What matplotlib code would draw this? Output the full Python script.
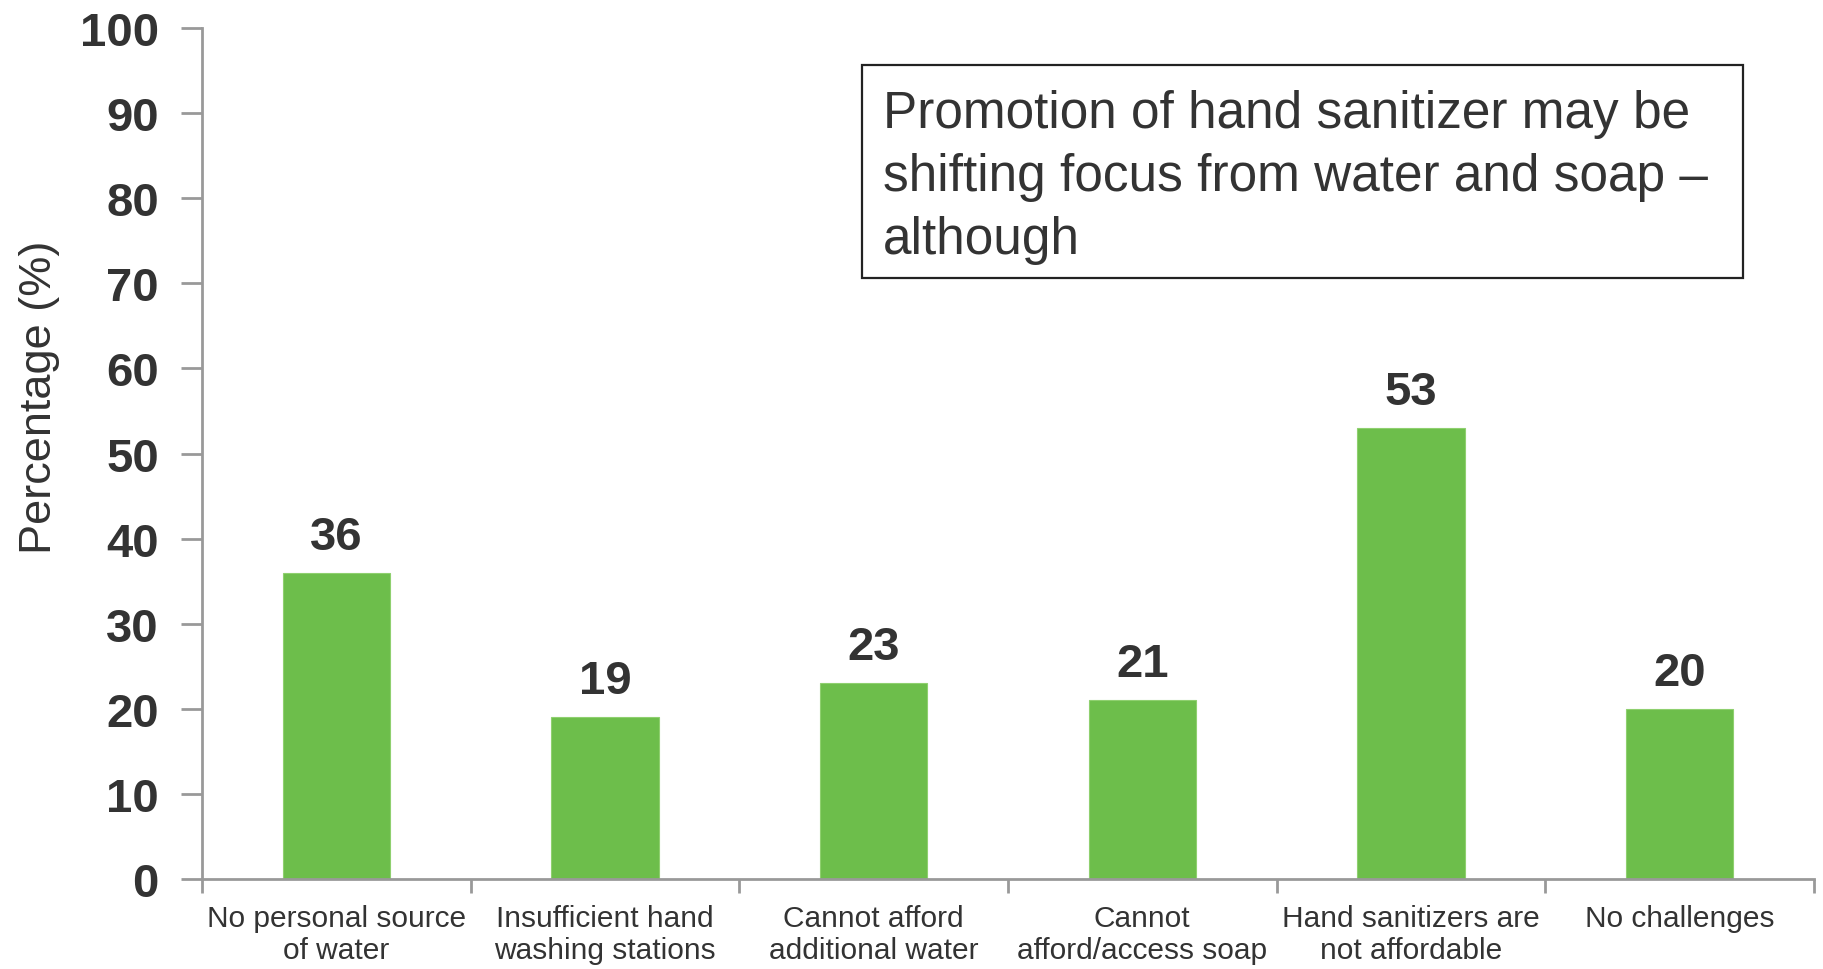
import matplotlib
matplotlib.use("Agg")
import matplotlib.pyplot as plt
from matplotlib.patches import Rectangle
import numpy as np

categories = ["No personal source\nof water", "Insufficient hand\nwashing stations",
              "Cannot afford\nadditional water", "Cannot\nafford/access soap",
              "Hand sanitizers are\nnot affordable", "No challenges"]
values = [36, 19, 23, 21, 53, 20]
yticks = [0, 10, 20, 30, 40, 50, 60, 70, 80, 90, 100]
note = "Promotion of hand sanitizer may be\nshifting focus from water and soap \u2013\nalthough"

FONT = ["Liberation Sans", "DejaVu Sans"]
TXT = "#333333"
GREEN = "#6dbe4b"
AX = "#999999"

plt.rcParams['font.family'] = FONT

fig = plt.figure(figsize=(18.24, 9.70), dpi=100)
ax = fig.add_axes([0.1107, 0.0928, 0.9945 - 0.1107, 0.970 - 0.0928])

x = np.arange(len(categories))
bars = ax.bar(x, values, width=0.4, color=GREEN, edgecolor="#8fd06f", linewidth=0.8, zorder=2)

for xi, v in zip(x, values):
    ax.annotate(str(v), (xi, v), xytext=(0, 10), textcoords="offset points",
                ha="center", va="bottom", fontsize=34, fontweight="bold", color=TXT)

ax.set_xlim(-0.5, len(categories) - 0.5)
ax.set_ylim(0, 100)
ax.set_yticks(yticks)
ax.set_yticklabels([str(t) for t in yticks], fontsize=34, fontweight="bold", color=TXT)
ax.tick_params(axis="y", length=15, width=2, color=AX, pad=16)

ax.set_xticks(x)
ax.set_xticklabels(categories, fontsize=21.5, color=TXT, linespacing=1.2)
ax.set_xticks(np.arange(-0.5, len(categories)), minor=True)
ax.tick_params(axis="x", which="major", length=0, pad=18)
ax.tick_params(axis="x", which="minor", length=10, width=2, color=AX)

for s in ["top", "right"]:
    ax.spines[s].set_visible(False)
for s in ["left", "bottom"]:
    ax.spines[s].set_color(AX)
    ax.spines[s].set_linewidth(2)

fig.text(0.0215, 0.59, "Percentage (%)", rotation=90, ha="center", va="center",
         fontsize=32.5, color=TXT)

ax.add_patch(Rectangle((0.4094, 0.706), 0.956 - 0.4094, 0.9565 - 0.706,
                       transform=ax.transAxes, fill=False, edgecolor="#222222",
                       linewidth=1.6, zorder=3, clip_on=False))
ax.text(0.4225, 0.8256, note, transform=ax.transAxes, ha="left", va="center",
        fontsize=37, color=TXT, linespacing=1.38, zorder=4)

fig.savefig("out.png", dpi=100, facecolor="white")
